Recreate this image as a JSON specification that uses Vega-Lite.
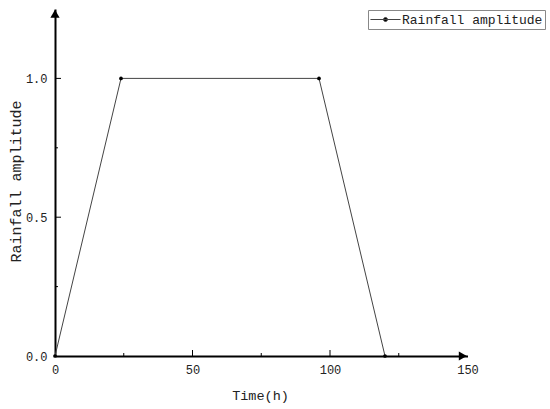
{
  "$schema": "https://vega.github.io/schema/vega-lite/v6.json",
  "width": 412.5,
  "height": 347,
  "autosize": "none",
  "padding": {"left": 55, "top": 9, "right": 82.5, "bottom": 53},
  "background": "white",
  "config": {
    "view": {"stroke": null},
    "font": "Liberation Mono",
    "axis": {
      "domainColor": "black",
      "domainWidth": 2,
      "ticks": false,
      "grid": false,
      "labelFont": "Liberation Mono",
      "labelFontSize": 12,
      "labelColor": "#222",
      "titleFont": "Liberation Mono",
      "titleFontWeight": "normal",
      "titleColor": "#222"
    }
  },
  "datasets": {
    "series": [
      {"time": 0, "amp": 0, "name": "Rainfall amplitude"},
      {"time": 24, "amp": 1, "name": "Rainfall amplitude"},
      {"time": 96, "amp": 1, "name": "Rainfall amplitude"},
      {"time": 120, "amp": 0, "name": "Rainfall amplitude"}
    ],
    "xmajor": [{"t": 50}, {"t": 100}],
    "xminor": [{"t": 25}, {"t": 75}, {"t": 125}],
    "ymajor": [{"v": 0.5}, {"v": 1.0}],
    "yminor": [{"v": 0.25}, {"v": 0.75}],
    "arrows": [
      {"time": 148.3, "amp": 0, "shape": "triangle-right"},
      {"time": 0, "amp": 1.233, "shape": "triangle-up"}
    ]
  },
  "layer": [
    {
      "data": {"name": "series"},
      "mark": {"type": "line", "strokeWidth": 1},
      "encoding": {
        "x": {
          "field": "time", "type": "quantitative",
          "scale": {"domain": [0, 150], "nice": false, "zero": false},
          "axis": {
            "title": "Time(h)",
            "titleFontSize": 13.5,
            "titleFontWeight": "normal",
            "titleX": 205,
            "titleY": 39,
            "titleBaseline": "middle",
            "titleAlign": "center",
            "values": [0, 50, 100, 150],
            "labelPadding": 8,
            "labelFlush": false
          }
        },
        "y": {
          "field": "amp", "type": "quantitative",
          "scale": {"domain": [0, 1.25], "nice": false},
          "axis": {
            "title": "Rainfall amplitude",
            "titleFontSize": 15,
            "titleFontWeight": "normal",
            "titleX": -39.5,
            "titleY": 172,
            "titleBaseline": "middle",
            "titleAlign": "center",
            "values": [0, 0.5, 1],
            "format": ".1f",
            "labelPadding": 8,
            "labelFlush": false
          }
        },
        "color": {
          "field": "name", "type": "nominal",
          "scale": {"range": ["#444444"]},
          "legend": {
            "title": null,
            "orient": "none",
            "legendX": 313,
            "legendY": 1,
            "strokeColor": "#888888",
            "padding": 2,
            "symbolType": "M-2.15,0H2.15M-0.29,0A0.29,0.29,0,1,0,0.29,0A0.29,0.29,0,1,0,-0.29,0Z",
            "symbolSize": 196,
            "symbolStrokeWidth": 1,
            "symbolStrokeColor": "black",
            "symbolFillColor": "black",
            "symbolOffset": 8,
            "labelOffset": 9,
            "labelFont": "Liberation Mono",
            "labelFontSize": 13,
            "labelColor": "#222"
          }
        }
      }
    },
    {
      "data": {"name": "series"},
      "mark": {"type": "point", "filled": true, "color": "black", "size": 14, "opacity": 1},
      "encoding": {
        "x": {"field": "time", "type": "quantitative"},
        "y": {"field": "amp", "type": "quantitative"}
      }
    },
    {
      "data": {"name": "xmajor"},
      "mark": {"type": "tick", "orient": "vertical", "size": 6, "thickness": 1, "color": "black", "opacity": 1, "yOffset": -3},
      "encoding": {
        "x": {"field": "t", "type": "quantitative"},
        "y": {"datum": 0, "type": "quantitative"}
      }
    },
    {
      "data": {"name": "xminor"},
      "mark": {"type": "tick", "orient": "vertical", "size": 3, "thickness": 1, "color": "black", "opacity": 1, "yOffset": -1.5},
      "encoding": {
        "x": {"field": "t", "type": "quantitative"},
        "y": {"datum": 0, "type": "quantitative"}
      }
    },
    {
      "data": {"name": "ymajor"},
      "mark": {"type": "tick", "orient": "horizontal", "size": 6, "thickness": 1, "color": "black", "opacity": 1, "xOffset": 3},
      "encoding": {
        "y": {"field": "v", "type": "quantitative"},
        "x": {"datum": 0, "type": "quantitative"}
      }
    },
    {
      "data": {"name": "yminor"},
      "mark": {"type": "tick", "orient": "horizontal", "size": 3, "thickness": 1, "color": "black", "opacity": 1, "xOffset": 1.5},
      "encoding": {
        "y": {"field": "v", "type": "quantitative"},
        "x": {"datum": 0, "type": "quantitative"}
      }
    },
    {
      "data": {"name": "arrows"},
      "mark": {"type": "point", "filled": true, "color": "black", "size": 85, "opacity": 1},
      "encoding": {
        "x": {"field": "time", "type": "quantitative"},
        "y": {"field": "amp", "type": "quantitative"},
        "shape": {"field": "shape", "type": "nominal", "scale": null, "legend": null}
      }
    }
  ]
}
